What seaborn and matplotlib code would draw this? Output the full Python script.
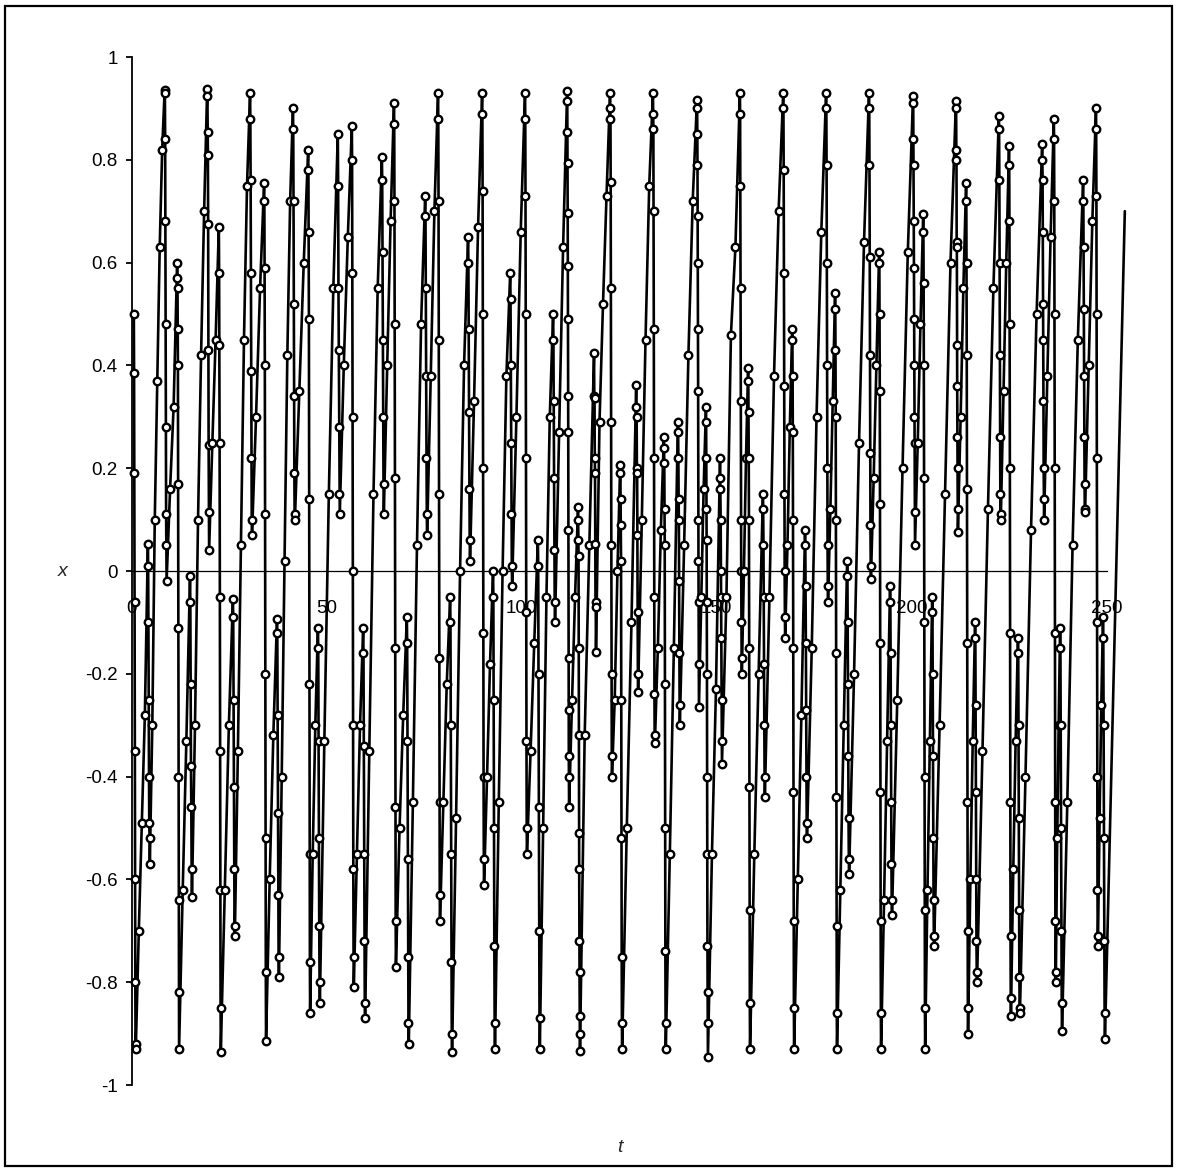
import numpy as np
import pandas as pd
import matplotlib
matplotlib.use("Agg")
import matplotlib.pyplot as plt
from matplotlib.patches import Rectangle
import seaborn as sns

# time of each fast swing (peak of the swing)
pair_t = [0.6, 4.2, 8.5, 11.7, 15.0, 19.4, 22.4, 26.0, 30.4, 34.0,
          37.3, 41.4, 45.3, 47.8, 52.9, 56.5, 59.4, 64.2, 67.3, 70.6,
          75.3, 78.6, 81.7, 86.3, 89.9, 92.7, 97.1, 100.9, 104.2, 108.1,
          111.7, 114.5, 118.6, 122.7, 125.3, 129.4, 133.7, 136.5, 140.1, 145.0,
          147.3, 150.9, 156.0, 158.1, 161.9, 167.1, 169.4, 172.7, 178.1, 180.4,
          183.5, 189.1, 191.7, 194.5, 200.4, 203.0, 205.3, 211.4, 214.0, 216.3,
          222.4, 225.0, 227.3, 233.5, 236.5, 238.1, 244.0, 247.3, 249.1]

# markers on each falling stroke (peak -> trough)
fall_x = [
    [0.50, 0.385, 0.19, -0.06, -0.35, -0.60, -0.80, -0.92, -0.93],
    [0.053, 0.01, -0.10, -0.25, -0.40, -0.49, -0.52, -0.57],
    [0.935, 0.93, 0.84, 0.68, 0.48, 0.28, 0.11, 0.05, -0.02],
    [0.60, 0.57, 0.55, 0.47, 0.40, 0.17, -0.11, -0.40, -0.64, -0.82, -0.93],
    [-0.01, -0.06, -0.22, -0.38, -0.46, -0.58, -0.635],
    [0.937, 0.924, 0.855, 0.81, 0.676, 0.43, 0.245, 0.115, 0.04],
    [0.67, 0.58, 0.44, 0.25, -0.05, -0.35, -0.62, -0.85, -0.935],
    [-0.055, -0.09, -0.25, -0.42, -0.58, -0.69, -0.71],
    [0.93, 0.88, 0.76, 0.58, 0.39, 0.22, 0.10, 0.07],
    [0.755, 0.72, 0.59, 0.40, 0.11, -0.20, -0.52, -0.78, -0.915],
    [-0.094, -0.12, -0.28, -0.47, -0.63, -0.75, -0.79],
    [0.90, 0.86, 0.72, 0.52, 0.34, 0.19, 0.11, 0.10],
    [0.82, 0.78, 0.66, 0.49, 0.14, -0.22, -0.55, -0.76, -0.86],
    [-0.11, -0.15, -0.33, -0.52, -0.69, -0.80, -0.84],
    [0.85, 0.75, 0.55, 0.43, 0.28, 0.15, 0.11],
    [0.865, 0.80, 0.58, 0.30, 0.0, -0.30, -0.58, -0.75, -0.81],
    [-0.11, -0.16, -0.34, -0.55, -0.72, -0.84, -0.87],
    [0.806, 0.76, 0.62, 0.45, 0.30, 0.17, 0.11],
    [0.91, 0.87, 0.72, 0.48, 0.18, -0.15, -0.46, -0.68, -0.77],
    [-0.09, -0.14, -0.33, -0.56, -0.75, -0.88, -0.92],
    [0.73, 0.69, 0.55, 0.38, 0.22, 0.11, 0.07],
    [0.93, 0.88, 0.72, 0.45, 0.15, -0.17, -0.45, -0.63, -0.68],
    [-0.05, -0.10, -0.30, -0.55, -0.76, -0.90, -0.935],
    [0.65, 0.60, 0.47, 0.31, 0.16, 0.06, 0.02],
    [0.93, 0.89, 0.74, 0.50, 0.20, -0.12, -0.40, -0.56, -0.61],
    [0.0, -0.05, -0.25, -0.50, -0.73, -0.88, -0.93],
    [0.58, 0.53, 0.40, 0.25, 0.11, 0.01, -0.03],
    [0.93, 0.88, 0.73, 0.50, 0.22, -0.08, -0.33, -0.50, -0.55],
    [0.06, 0.01, -0.20, -0.46, -0.70, -0.87, -0.93],
    [0.50, 0.45, 0.33, 0.18, 0.04, -0.06, -0.10],
    [0.933, 0.914, 0.854, 0.794, 0.696, 0.593, 0.49, 0.34, 0.27, 0.08, -0.17, -0.27, -0.36, -0.40, -0.46],
    [0.125, 0.10, 0.06, 0.03, -0.15, -0.32, -0.51, -0.58, -0.72, -0.78, -0.865, -0.90, -0.933],
    [0.424, 0.34, 0.337, 0.22, 0.19, 0.053, -0.06, -0.07, -0.157],
    [0.93, 0.90, 0.88, 0.756, 0.55, 0.29, 0.05, -0.20, -0.36, -0.40],
    [0.206, 0.19, 0.14, 0.09, 0.02, -0.25, -0.52, -0.75, -0.88, -0.93],
    [0.362, 0.32, 0.30, 0.20, 0.19, 0.07, -0.08, -0.20, -0.235],
    [0.93, 0.89, 0.86, 0.70, 0.47, 0.22, -0.05, -0.24, -0.32, -0.335],
    [0.26, 0.24, 0.21, 0.12, 0.05, -0.22, -0.50, -0.74, -0.88, -0.93],
    [0.29, 0.27, 0.22, 0.14, 0.10, -0.02, -0.16, -0.26, -0.30],
    [0.917, 0.90, 0.85, 0.79, 0.69, 0.60, 0.47, 0.35, 0.10, 0.02, -0.06, -0.18, -0.265],
    [0.32, 0.29, 0.22, 0.12, 0.06, -0.06, -0.20, -0.40, -0.55, -0.73, -0.82, -0.88, -0.946],
    [0.22, 0.18, 0.16, 0.10, 0.0, -0.05, -0.13, -0.25, -0.33, -0.375],
    [0.93, 0.89, 0.75, 0.55, 0.33, 0.10, 0.0, -0.10, -0.17, -0.20],
    [0.395, 0.37, 0.31, 0.22, 0.10, -0.15, -0.42, -0.66, -0.84, -0.93],
    [0.15, 0.12, 0.05, -0.05, -0.18, -0.30, -0.40, -0.44],
    [0.93, 0.90, 0.78, 0.58, 0.36, 0.15, 0.0, -0.09, -0.13],
    [0.47, 0.45, 0.38, 0.27, 0.10, -0.15, -0.43, -0.68, -0.85, -0.93],
    [0.08, 0.05, -0.03, -0.14, -0.27, -0.40, -0.49, -0.52],
    [0.93, 0.90, 0.79, 0.60, 0.40, 0.20, 0.05, -0.03, -0.06],
    [0.54, 0.51, 0.43, 0.30, 0.10, -0.16, -0.44, -0.69, -0.86, -0.93],
    [0.02, -0.01, -0.10, -0.22, -0.36, -0.48, -0.56, -0.59],
    [0.93, 0.90, 0.79, 0.61, 0.42, 0.23, 0.09, 0.01, -0.015],
    [0.62, 0.60, 0.50, 0.35, 0.13, -0.14, -0.43, -0.68, -0.86, -0.93],
    [-0.03, -0.06, -0.16, -0.30, -0.45, -0.57, -0.64, -0.67],
    [0.924, 0.91, 0.84, 0.79, 0.68, 0.59, 0.49, 0.40, 0.30, 0.25, 0.115, 0.05],
    [0.695, 0.66, 0.56, 0.40, 0.18, -0.10, -0.40, -0.66, -0.85, -0.93],
    [-0.05, -0.08, -0.20, -0.36, -0.52, -0.64, -0.71, -0.73],
    [0.915, 0.90, 0.82, 0.80, 0.64, 0.63, 0.44, 0.36, 0.26, 0.20, 0.12, 0.075],
    [0.755, 0.72, 0.60, 0.42, 0.16, -0.14, -0.45, -0.70, -0.85, -0.90],
    [-0.10, -0.13, -0.26, -0.43, -0.60, -0.72, -0.78, -0.80],
    [0.885, 0.86, 0.76, 0.60, 0.42, 0.26, 0.15, 0.11, 0.10],
    [0.826, 0.79, 0.68, 0.48, 0.20, -0.12, -0.45, -0.71, -0.83, -0.865],
    [-0.13, -0.16, -0.30, -0.48, -0.66, -0.79, -0.85, -0.86],
    [0.83, 0.80, 0.76, 0.66, 0.52, 0.45, 0.33, 0.20, 0.14, 0.10],
    [0.88, 0.84, 0.72, 0.50, 0.20, -0.12, -0.45, -0.68, -0.78, -0.80],
    [-0.11, -0.15, -0.30, -0.50, -0.70, -0.84, -0.895],
    [0.76, 0.72, 0.63, 0.51, 0.38, 0.26, 0.17, 0.12, 0.115],
    [0.90, 0.86, 0.73, 0.50, 0.22, -0.10, -0.40, -0.62, -0.71, -0.73],
    [-0.09, -0.13, -0.30, -0.52, -0.72, -0.86, -0.91],
]

# markers on each rising stroke (trough -> next peak)
rise_x = [
    [-0.70, -0.49, -0.28],
    [-0.30, 0.10, 0.37, 0.63, 0.82],
    [0.16, 0.32],
    [-0.62, -0.33],
    [-0.30, 0.10, 0.42, 0.70],
    [0.25, 0.45],
    [-0.62, -0.30],
    [-0.35, 0.05, 0.45, 0.75],
    [0.30, 0.55],
    [-0.60, -0.32],
    [-0.40, 0.02, 0.42, 0.72],
    [0.35, 0.60],
    [-0.55, -0.30],
    [-0.33, 0.15, 0.55],
    [0.40, 0.65],
    [-0.55, -0.30],
    [-0.35, 0.15, 0.55],
    [0.40, 0.68],
    [-0.50, -0.28],
    [-0.45, 0.05, 0.48],
    [0.38, 0.70],
    [-0.45, -0.22],
    [-0.48, 0.0, 0.40],
    [0.33, 0.67],
    [-0.40, -0.18],
    [-0.45, 0.0, 0.38],
    [0.30, 0.66],
    [-0.35, -0.14],
    [-0.50, -0.05, 0.30],
    [0.27, 0.63],
    [-0.25, -0.05],
    [-0.32, 0.05],
    [0.29, 0.52, 0.73],
    [-0.25, 0.0],
    [-0.50, -0.10],
    [0.10, 0.45, 0.75],
    [-0.15, 0.08],
    [-0.55, -0.15],
    [0.05, 0.42, 0.72],
    [-0.05, 0.16],
    [-0.55, -0.23],
    [-0.05, 0.46, 0.63],
    [0.0, 0.22],
    [-0.55, -0.20],
    [-0.05, 0.38, 0.70],
    [0.05, 0.28],
    [-0.60, -0.28],
    [-0.15, 0.30, 0.66],
    [0.12, 0.33],
    [-0.62, -0.30],
    [-0.20, 0.25, 0.64],
    [0.18, 0.40],
    [-0.64, -0.33],
    [-0.25, 0.20, 0.62],
    [0.25, 0.48],
    [-0.62, -0.33],
    [-0.30, 0.15, 0.60],
    [0.30, 0.55],
    [-0.60, -0.33],
    [-0.35, 0.12, 0.55],
    [0.35, 0.60],
    [-0.58, -0.33],
    [-0.40, 0.08, 0.50],
    [0.38, 0.65],
    [-0.52, -0.30],
    [-0.45, 0.05, 0.45],
    [0.40, 0.68],
    [-0.48, -0.26],
]

# last sample, where the line leaves the plot
end_t = 254.7
end_x = 0.70

y_ticks = [1, 0.8, 0.6, 0.4, 0.2, 0, -0.2, -0.4, -0.6, -0.8, -1]
y_tick_labels = ["1", "0.8", "0.6", "0.4", "0.2", "0", "-0.2", "-0.4", "-0.6", "-0.8", "-1"]
x_ticks = [0, 50, 100, 150, 200, 250]

# --- put the samples in time order
fall_span = 0.5
t_pts, x_pts = [], []
for i, (tp, fall) in enumerate(zip(pair_t, fall_x)):
    n = len(fall)
    for j, v in enumerate(fall):
        t_pts.append(tp + fall_span * j / (n - 1))
        x_pts.append(v)
    if i < len(rise_x):
        t0 = tp + fall_span
        t1 = pair_t[i + 1]
        m = len(rise_x[i])
        for k, v in enumerate(rise_x[i]):
            t_pts.append(t0 + (t1 - t0) * (k + 1) / (m + 1))
            x_pts.append(v)
t_pts.append(end_t)
x_pts.append(end_x)

df = pd.DataFrame({"t": t_pts, "x": x_pts})

sns.set_style("white")
plt.rcParams["font.family"] = ["Liberation Sans", "DejaVu Sans"]
plt.rcParams["axes.unicode_minus"] = False

fig = plt.figure(figsize=(11.77, 11.72), dpi=100)
ax = fig.add_axes([131.5 / 1177, 87 / 1172, 975 / 1177, 1028 / 1172])

sns.lineplot(
    data=df, x="t", y="x", ax=ax,
    sort=False, estimator=None,
    color="black", linewidth=1.9,
    marker="o", markersize=5.4,
    markerfacecolor="white", markeredgecolor="black", markeredgewidth=1.7,
    markevery=list(range(len(df) - 1)),
    clip_on=False, zorder=3,
)

ax.set_xlim(0, 250)
ax.set_ylim(-1, 1)

ax.spines["top"].set_visible(False)
ax.spines["right"].set_visible(False)
ax.spines["bottom"].set_position(("data", 0))
ax.spines["bottom"].set_linewidth(0.9)
ax.spines["left"].set_linewidth(1.3)
ax.spines["left"].set_color("black")
ax.spines["bottom"].set_color("black")

ax.set_yticks(y_ticks)
ax.set_yticklabels(y_tick_labels)
ax.set_xticks(x_ticks)
ax.set_xticklabels([str(v) for v in x_ticks])
ax.tick_params(axis="y", direction="out", length=4, width=1.3, pad=6,
               labelsize=13.5, left=True, colors="black")
ax.tick_params(axis="x", length=0, pad=21, labelsize=13.5, bottom=True, colors="black")
for lab in ax.get_xticklabels():
    lab.set_zorder(1)

ax.set_xlabel("t", fontsize=14, style="italic")
ax.xaxis.set_label_coords(0.501, -0.053)
ax.set_ylabel("x", fontsize=14, style="italic", rotation=0, va="center", ha="center")
ax.yaxis.set_label_coords(-0.071, 0.5)

# outer frame round the whole chart
fig.patches.append(Rectangle((5 / 1177, 6 / 1172), 1167 / 1177, 1160 / 1172,
                             transform=fig.transFigure, fill=False,
                             edgecolor="black", linewidth=1.6))

fig.savefig("out.png", dpi=100, facecolor="white")
